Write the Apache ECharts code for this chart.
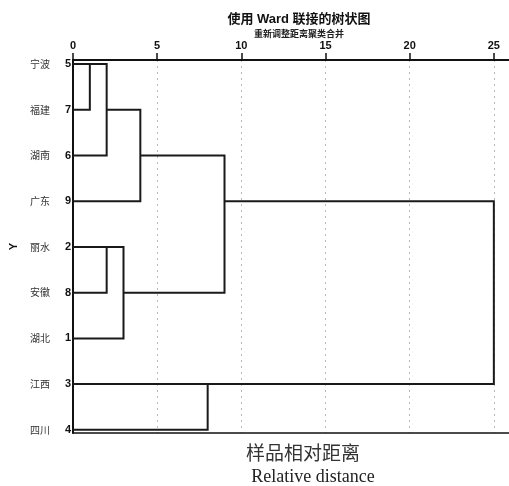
<!DOCTYPE html>
<html>
<head>
<meta charset="utf-8">
<script src="https://cdn.jsdelivr.net/npm/echarts@6/dist/echarts.min.js"></script>
<style>
html,body{margin:0;padding:0;background:#fff;}
#main{width:509px;height:486px;}
</style>
</head>
<body>
<div id="main"></div>
<script>
// leaves, top to bottom
var leafNames = ['宁波', '福建', '湖南', '广东', '丽水', '安徽', '湖北', '江西', '四川'];
var caseIds = [5, 7, 6, 9, 2, 8, 1, 3, 4];
// merges: [clusterA, clusterB, rescaled distance]; leaves are 0..8, new clusters 9..
var mergeA = [0, 9, 4, 11, 10, 7, 13, 15];
var mergeB = [1, 2, 5, 6, 3, 8, 12, 14];
var mergeDist = [1, 2, 2, 3, 4, 8, 9, 25];
var xTicks = [0, 5, 10, 15, 20, 25];

// build segments
var rowOf = {}, startX = {};
for (var i = 0; i < leafNames.length; i++) { rowOf[i] = i; startX[i] = 0; }
var links = [];
for (var m = 0; m < mergeA.length; m++) {
  var a = mergeA[m], b = mergeB[m], h = mergeDist[m];
  var ra = rowOf[a], rb = rowOf[b];
  links.push([startX[a], ra, h, rb, startX[b]]);
  var id = leafNames.length + m;
  rowOf[id] = Math.floor((ra + rb) / 2);
  startX[id] = h;
}
var rows = leafNames.map(function (_, i) { return i; });

var chart = echarts.init(document.getElementById('main'), null, {renderer: 'canvas'});
var latin = "'Liberation Sans', 'Noto Sans CJK SC', sans-serif";
var narrow = "'Liberation Sans Narrow', 'Liberation Sans', sans-serif";
var cjk = "'Noto Sans CJK SC', sans-serif";

chart.setOption({
  animation: false,
  backgroundColor: '#fff',
  title: [
    {
      text: '使用 Ward 联接的树状图',
      subtext: '重新调整距离聚类合并',
      left: 294, top: 8, textAlign: 'center', itemGap: 3.5,
      textStyle: {fontFamily: latin, fontSize: 13, fontWeight: 'bold', color: '#111'},
      subtextStyle: {fontFamily: cjk, fontSize: 9, fontWeight: 'bold', color: '#222'}
    },
    {
      text: '样品相对距离',
      left: 298, top: 438, textAlign: 'center',
      textStyle: {fontFamily: cjk, fontSize: 19, fontWeight: 'normal', color: '#333'}
    },
    {
      text: 'Relative distance',
      left: 308, top: 463, textAlign: 'center',
      textStyle: {fontFamily: "'Liberation Serif', serif", fontSize: 18, fontWeight: 'normal', color: '#222'}
    }
  ],
  grid: {left: 71, right: 0, top: 60, bottom: 53},
  xAxis: [
    {
      type: 'value', position: 'top', min: 0, max: 25.9,
      axisLine: {show: true, onZero: false, lineStyle: {color: '#111', width: 2}},
      axisTick: {show: true, inside: false, length: 7, customValues: xTicks, lineStyle: {color: '#111', width: 1.5}},
      axisLabel: {show: true, customValues: xTicks, margin: 9, fontFamily: narrow, fontSize: 11, fontWeight: 'bold', color: '#111'},
      splitLine: {show: true, lineStyle: {color: '#b8b8b8', width: 1, type: [2, 4]}}
    },
    {
      type: 'value', position: 'bottom', min: 0, max: 25.9,
      axisLine: {show: true, onZero: false, lineStyle: {color: '#111', width: 1.5}},
      axisTick: {show: false}, axisLabel: {show: false}, splitLine: {show: false}
    }
  ],
  yAxis: {
    type: 'value', inverse: true, min: -0.09, max: 8.07,
    name: 'Y', nameLocation: 'middle', nameGap: 54,
    nameTextStyle: {fontFamily: latin, fontSize: 11, fontWeight: 'bold', color: '#111'},
    axisLine: {show: true, onZero: false, lineStyle: {color: '#111', width: 2}},
    axisTick: {show: false},
    splitLine: {show: false},
    axisLabel: {
      show: true, customValues: rows, margin: 2,
      formatter: function (v) {
        var i = Math.round(v);
        return '{n|' + leafNames[i] + '}{d|' + caseIds[i] + '}';
      },
      rich: {
        n: {width: 50, align: 'center', fontFamily: cjk, fontSize: 10, color: '#333'},
        d: {width: 6, align: 'right', fontFamily: narrow, fontSize: 11, fontWeight: 'bold', color: '#111'}
      }
    }
  },
  series: [{
    type: 'custom',
    xAxisIndex: 0,
    encode: {x: [0, 2, 4], y: [1, 3]},
    data: links,
    renderItem: function (params, api) {
      var p1 = api.coord([api.value(0), api.value(1)]);
      var p2 = api.coord([api.value(2), api.value(1)]);
      var p3 = api.coord([api.value(2), api.value(3)]);
      var p4 = api.coord([api.value(4), api.value(3)]);
      return {
        type: 'polyline',
        shape: {points: [p1, p2, p3, p4]},
        style: {stroke: '#1a1a1a', lineWidth: 2, fill: null}
      };
    }
  }]
});
</script>
</body>
</html>
